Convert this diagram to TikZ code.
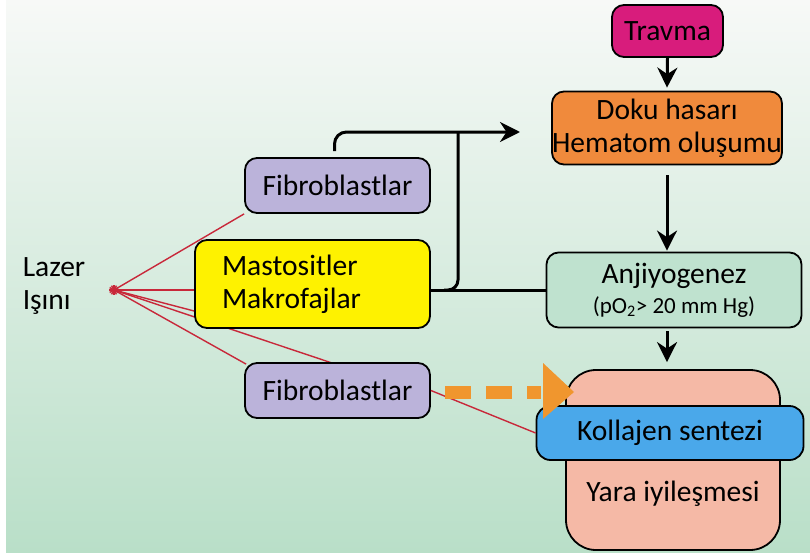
\documentclass[tikz,border=0pt]{standalone}
\usepackage{fontspec}
\setmainfont{Carlito}
\usetikzlibrary{arrows.meta,calc}
\definecolor{bgtop}{HTML}{F7F9F7}
\definecolor{bgbot}{HTML}{B9DFC8}
\definecolor{travma}{HTML}{D81C7C}
\definecolor{doku}{HTML}{F08A3C}
\definecolor{anj}{HTML}{BFE2CF}
\definecolor{fib}{HTML}{BBB3DA}
\definecolor{mast}{HTML}{FEF200}
\definecolor{kol}{HTML}{4AA8EA}
\definecolor{yara}{HTML}{F5B9A6}
\definecolor{ora}{HTML}{F0962E}
\definecolor{laser}{HTML}{C8283A}
\begin{document}
\begin{tikzpicture}[x=1pt,y=-1pt,
  box/.style={draw=black, line width=1.8pt, rounded corners=12pt, inner sep=0pt,
    align=center, font=\fontsize{29.5}{33}\selectfont},
  arr/.style={draw=black, line width=3pt, -{Stealth[length=20pt,width=20pt]}},
  link/.style={draw=black, line width=3pt},
  ray/.style={draw=laser, line width=1.4pt},
  txt/.style={font=\fontsize{29.5}{33}\selectfont, inner sep=0pt, align=left}]
\useasboundingbox (0,0) rectangle (810,559);
\fill[white] (0,0) rectangle (810,559);
\shade[top color=bgtop, bottom color=bgbot] (6,0) rectangle (810,552);

% nodes
\node[box, fill=travma, minimum width=111pt, minimum height=52pt] (tr) at (667.5,31) {Travma};
\node[box, fill=doku, minimum width=230pt, minimum height=73pt] (dk) at (667,128) {Doku hasarı\\Hematom oluşumu};
\node[box, fill=anj, minimum width=255pt, minimum height=75pt] (an) at (674,290)
  {Anjiyogenez\\[-3pt]{\fontsize{23}{26}\selectfont (pO\textsubscript{2}> 20 mm Hg)}};

\coordinate (star) at (114,290);
% ray behind yellow box
\coordinate (fbtop) at (332,363);
\draw[ray] (star) -- (fbtop);

\node[box, fill=fib, minimum width=185pt, minimum height=55pt] (ft) at (337.5,185.5) {Fibroblastlar};
\node[box, fill=mast, minimum height=88pt, text width=181pt, inner xsep=27pt, align=left] (ms) at (312.5,284) {Mastositler\\Makrofajlar};
\node[box, fill=fib, minimum width=185pt, minimum height=55pt] (fb) at (337.5,390.5) {Fibroblastlar};

\node[txt] (lz) at (54,286) {Lazer\\Işını};

\node[box, fill=yara, rounded corners=30pt, minimum width=214pt, minimum height=180pt] (ya) at (673,460) {};
\node[txt] (yt) at (673,494) {Yara iyileşmesi};
\node[box, fill=kol, rounded corners=14pt, minimum width=267pt, minimum height=54pt] (ko) at (670,433) {Kollajen sentezi};

% laser star
\foreach \a in {0,30,...,150}
  \draw[laser, line width=1.5pt] ($(star)+(\a:5pt)$) -- ($(star)+(\a+180:5pt)$);

% laser rays
\draw[ray] (star) -- (ft.south west);
\draw[ray] (star) -- (ms.west |- star);
\draw[ray] (star) -- ($(ms.west)+(0,-27pt)$);
\draw[ray] (star) -- ($(fb.north west)+(2,2)$);
\draw[ray] (fb.east) -- (ko.west);

% black arrows (common axis x = 667)
\coordinate (ax) at (667,0);
\draw[arr] (tr.south) -- ([yshift=3pt]dk.north);
\draw[arr] ([yshift=-10pt]dk.south) -- ([yshift=1pt]an.north -| ax);
\draw[arr] ([yshift=-3pt]an.south -| ax) -- ([yshift=7pt]ya.north -| ax);

% connectors from cells
\coordinate (jn) at (458,290);
\coordinate (top) at (458,132);
\coordinate (aend) at (520,132);
\draw[link] (ms.east |- an.west) -- (an.west);
\draw[link, rounded corners=10pt] ($(jn)+(-14,0)$) -| (top);
\draw[arr, rounded corners=12pt] ([xshift=-3pt,yshift=6pt]ft.north) |- (aend);

% orange dashed arrow
\draw[ora, line width=13pt, dash pattern=on 26pt off 15pt] (445,392) -- (541,392);
\fill[ora] (543,363) -- (574,392) -- (543,419) -- cycle;
\end{tikzpicture}
\end{document}
